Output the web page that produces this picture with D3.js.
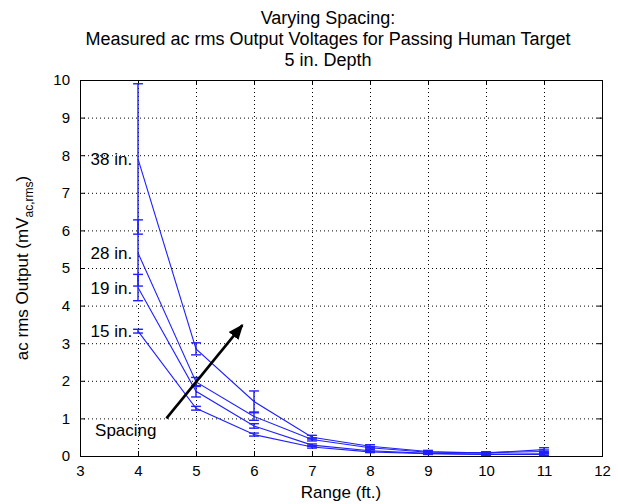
<!DOCTYPE html>
<html>
<head>
<meta charset="utf-8">
<script src="https://cdn.jsdelivr.net/npm/d3@7"></script>
<style>
  body { margin: 0; background: #fff; }
  text { font-family: "Liberation Sans", Arial, sans-serif; fill: #000; }
</style>
</head>
<body>
<script>
// range (ft.)
var ranges = [4, 5, 6, 7, 8, 9, 10, 11];

// spacing labels
var spacings = ["15 in.", "19 in.", "28 in.", "38 in."];

// measured ac rms output (mV), one array per spacing
var v15 = [3.32, 1.27, 0.57, 0.24, 0.11, 0.06, 0.04, 0.04];
var v19 = [4.48, 1.72, 0.80, 0.29, 0.14, 0.07, 0.05, 0.06];
var v28 = [5.40, 1.97, 1.05, 0.44, 0.22, 0.10, 0.09, 0.12];
var v38 = [7.90, 2.85, 1.45, 0.50, 0.26, 0.12, 0.08, 0.17];

// error bar half heights
var e15 = [0.05, 0.05, 0.04, 0.03, 0.02, 0.02, 0.02, 0.03];
var e19 = [0.35, 0.15, 0.06, 0.03, 0.03, 0.02, 0.02, 0.03];
var e28 = [0.88, 0.12, 0.10, 0.04, 0.03, 0.02, 0.02, 0.04];
var e38 = [2.00, 0.16, 0.28, 0.05, 0.04, 0.03, 0.03, 0.05];

var xTicks = [3, 4, 5, 6, 7, 8, 9, 10, 11, 12];
var yTicks = [0, 1, 2, 3, 4, 5, 6, 7, 8, 9, 10];

var titleLines = ["Varying Spacing:", "Measured ac rms Output Voltages for Passing Human Target", "5 in. Depth"];

var series = [
  {name: spacings[0], v: v15, e: e15},
  {name: spacings[1], v: v19, e: e19},
  {name: spacings[2], v: v28, e: e28},
  {name: spacings[3], v: v38, e: e38}
];

var W = 618, H = 504;
var margin = {top: 80, right: 16, bottom: 48, left: 80},
    width = W - margin.left - margin.right,
    height = H - margin.top - margin.bottom;

var x = d3.scaleLinear().domain([3, 12]).range([0, width]);
var y = d3.scaleLinear().domain([0, 10]).range([height, 0]);

var svg = d3.select("body").append("svg")
    .attr("width", W)
    .attr("height", H);

svg.append("rect").attr("width", W).attr("height", H).attr("fill", "#fff");

var g = svg.append("g")
    .attr("transform", "translate(" + margin.left + "," + margin.top + ")");

// grid (dotted)
g.append("g").selectAll("line").data(xTicks.slice(1, -1)).join("line")
    .attr("x1", d => x(d) + 0.5).attr("x2", d => x(d) + 0.5)
    .attr("y1", 0).attr("y2", height)
    .attr("stroke", "#000").attr("stroke-dasharray", "1,3");
g.append("g").selectAll("line").data(yTicks.slice(1, -1)).join("line")
    .attr("y1", d => y(d) + 0.5).attr("y2", d => y(d) + 0.5)
    .attr("x1", 0).attr("x2", width)
    .attr("stroke", "#000").attr("stroke-dasharray", "1,3");

// axes, ticks inside
var xAxis = d3.axisBottom(x).tickValues(xTicks).tickSize(-5).tickPadding(9);
var yAxis = d3.axisLeft(y).tickValues(yTicks).tickSize(-5).tickPadding(10);

g.append("g").attr("transform", "translate(0," + height + ")").call(xAxis)
    .call(a => a.select(".domain").remove())
    .selectAll("text").attr("font-size", 15).attr("font-family", "Liberation Sans, Arial, sans-serif");
g.append("g").call(yAxis)
    .call(a => a.select(".domain").remove())
    .selectAll("text").attr("font-size", 15).attr("font-family", "Liberation Sans, Arial, sans-serif");
g.append("g").call(d3.axisTop(x).tickValues(xTicks).tickSize(-5).tickFormat(""))
    .call(a => a.select(".domain").remove());
g.append("g").attr("transform", "translate(" + width + ",0)")
    .call(d3.axisRight(y).tickValues(yTicks).tickSize(-5).tickFormat(""))
    .call(a => a.select(".domain").remove());

// box
g.append("rect").attr("x", 0.5).attr("y", 0.5)
    .attr("width", width).attr("height", height)
    .attr("fill", "none").attr("stroke", "#000");

// lines
var line = d3.line().x((d, i) => x(ranges[i])).y(d => y(d));
var blue = "#1f1fff";

series.forEach(s => {
  var sg = g.append("g");
  sg.append("path").datum(s.v).attr("d", line)
      .attr("fill", "none").attr("stroke", blue).attr("stroke-width", 1.1);

  var cap = 0.085;
  var eb = sg.selectAll("g.eb").data(s.v).join("g").attr("class", "eb");
  eb.append("line")
      .attr("x1", (d, i) => x(ranges[i])).attr("x2", (d, i) => x(ranges[i]))
      .attr("y1", (d, i) => y(d + s.e[i])).attr("y2", (d, i) => y(d - s.e[i]))
      .attr("stroke", blue).attr("stroke-width", 1.4);
  [1, -1].forEach(sign => {
    eb.append("line")
        .attr("x1", (d, i) => x(ranges[i] - cap)).attr("x2", (d, i) => x(ranges[i] + cap))
        .attr("y1", (d, i) => y(d + sign * s.e[i])).attr("y2", (d, i) => y(d + sign * s.e[i]))
        .attr("stroke", blue).attr("stroke-width", 1.4);
  });

  // spacing label left of the first point
  g.append("text")
      .attr("x", x(ranges[0] - 0.1))
      .attr("y", y(s.v[0]))
      .attr("dy", "0.35em")
      .attr("text-anchor", "end")
      .attr("font-size", 17)
      .text(s.name);
});

// arrow annotation
svg.append("defs").append("marker")
    .attr("id", "head").attr("viewBox", "0 0 10 10")
    .attr("refX", 9).attr("refY", 5)
    .attr("markerWidth", 6).attr("markerHeight", 6)
    .attr("markerUnits", "strokeWidth")
    .attr("orient", "auto")
  .append("path").attr("d", "M0,1 L10,5 L0,9 Z").attr("fill", "#000");

g.append("line")
    .attr("x1", x(4.49)).attr("y1", y(1.0))
    .attr("x2", x(5.8)).attr("y2", y(3.48))
    .attr("stroke", "#000").attr("stroke-width", 2.6)
    .attr("marker-end", "url(#head)");

g.append("text")
    .attr("x", x(3.26)).attr("y", y(0.69))
    .attr("dy", "0.35em")
    .attr("font-size", 17)
    .text("Spacing");

// title
svg.append("g").selectAll("text").data(titleLines).join("text")
    .attr("x", 328)
    .attr("y", (d, i) => 24 + i * 21)
    .attr("text-anchor", "middle")
    .attr("font-size", 18)
    .text(d => d);

// axis labels
svg.append("text")
    .attr("x", margin.left + width / 2)
    .attr("y", 498)
    .attr("text-anchor", "middle")
    .attr("font-size", 17)
    .text("Range (ft.)");

var yl = svg.append("text")
    .attr("transform", "translate(28," + (margin.top + height / 2) + ") rotate(-90)")
    .attr("text-anchor", "middle")
    .attr("font-size", 17);
yl.append("tspan").text("ac rms Output (mV");
yl.append("tspan").attr("font-size", 12).attr("dy", 5).text("ac,rms");
yl.append("tspan").attr("dy", -5).text(")");
</script>
</body>
</html>
